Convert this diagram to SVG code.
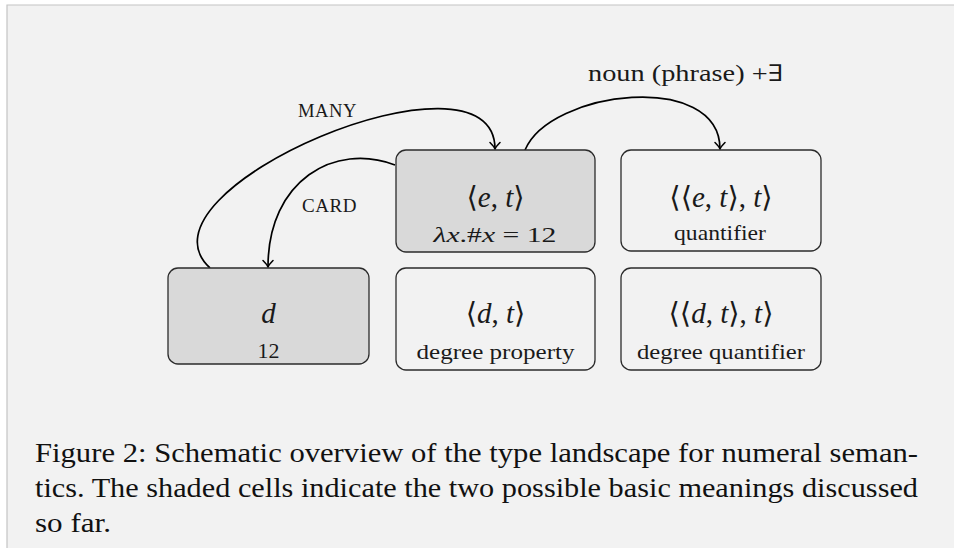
<svg xmlns="http://www.w3.org/2000/svg" width="954" height="548" viewBox="0 0 954 548">
<style>
.box{stroke:#2b2b2b;stroke-width:1.3}
.shaded{fill:#d9d9d9}
.plain{fill:#f2f2f2}
.math{font-family:"Liberation Serif","DejaVu Serif",serif;font-size:29px;fill:#1a1a1a;text-anchor:middle}
.sub{font-family:"Liberation Serif","DejaVu Serif",serif;font-size:22px;fill:#1a1a1a;text-anchor:middle}
.lbl{font-family:"Liberation Serif","DejaVu Serif",serif;font-size:23px;fill:#1a1a1a}
.sc{font-family:"Liberation Serif","DejaVu Serif",serif;font-size:18px;fill:#1a1a1a;letter-spacing:0.5px}
.cap{font-family:"Liberation Serif","DejaVu Serif",serif;font-size:27px;fill:#111}
.it{font-style:italic}
.conn{fill:none;stroke:#000;stroke-width:1.7}
</style>
<defs>
<marker id="arr" viewBox="-8 -6 10 12" refX="0" refY="0" markerWidth="10" markerHeight="12" orient="auto" markerUnits="userSpaceOnUse">
<path d="M-6.5,-5 Q-2.5,-1 0,0 Q-2.5,1 -6.5,5" fill="none" stroke="#000" stroke-width="1.5" stroke-linecap="round"/>
</marker>
</defs>
<rect x="0" y="0" width="954" height="548" fill="#ffffff"/>
<rect x="7" y="5" width="947" height="543" fill="#f2f2f2"/>
<path d="M7,548 V5 H954" fill="none" stroke="#c4c4c4" stroke-width="1.2"/>

<g id="connectors">
<path class="conn" d="M210,268 C125,190 495,35 495,149" marker-end="url(#arr)"/>
<path class="conn" d="M395,165 C335,142 268,180 268,267" marker-end="url(#arr)"/>
<path class="conn" d="M525,150 C550,90 720,70 720,149" marker-end="url(#arr)"/>
<text class="sc" x="298" y="117" textLength="59" lengthAdjust="spacingAndGlyphs">MANY</text>
<text class="sc" x="302" y="212" textLength="55" lengthAdjust="spacingAndGlyphs">CARD</text>
<text class="lbl" x="588" y="81" textLength="195" lengthAdjust="spacingAndGlyphs">noun (phrase) +∃</text>
</g>

<g id="node-et">
<rect class="box shaded" x="396" y="150" width="199" height="102" rx="10"/>
<text class="math" x="495.5" y="207">⟨<tspan class="it">e</tspan>, <tspan class="it">t</tspan>⟩</text>
<text class="sub" x="495" y="242" textLength="123" lengthAdjust="spacingAndGlyphs"><tspan class="it">λx</tspan>.#<tspan class="it">x</tspan> = 12</text>
</g>

<g id="node-quant">
<rect class="box plain" x="621" y="150" width="200" height="101" rx="10"/>
<text class="math" x="721" y="207">⟨⟨<tspan class="it">e</tspan>, <tspan class="it">t</tspan>⟩, <tspan class="it">t</tspan>⟩</text>
<text class="sub" x="720" y="240" textLength="92" lengthAdjust="spacingAndGlyphs">quantifier</text>
</g>

<g id="node-d">
<rect class="box shaded" x="168" y="268" width="201" height="96" rx="10"/>
<text class="math it" x="268.5" y="323">d</text>
<text class="sub" x="268.5" y="358">12</text>
</g>

<g id="node-dt">
<rect class="box plain" x="396" y="268" width="199" height="102" rx="10"/>
<text class="math" x="495.5" y="323">⟨<tspan class="it">d</tspan>, <tspan class="it">t</tspan>⟩</text>
<text class="sub" x="495.5" y="359" textLength="158" lengthAdjust="spacingAndGlyphs">degree property</text>
</g>

<g id="node-dq">
<rect class="box plain" x="621" y="268" width="200" height="102" rx="10"/>
<text class="math" x="721" y="323">⟨⟨<tspan class="it">d</tspan>, <tspan class="it">t</tspan>⟩, <tspan class="it">t</tspan>⟩</text>
<text class="sub" x="721" y="359" textLength="168" lengthAdjust="spacingAndGlyphs">degree quantifier</text>
</g>

<g id="caption">
<text class="cap" x="35" y="462" textLength="883" lengthAdjust="spacingAndGlyphs">Figure 2: Schematic overview of the type landscape for numeral seman-</text>
<text class="cap" x="35" y="497" textLength="883" lengthAdjust="spacingAndGlyphs">tics. The shaded cells indicate the two possible basic meanings discussed</text>
<text class="cap" x="35" y="532" textLength="76" lengthAdjust="spacingAndGlyphs">so far.</text>
</g>
</svg>
